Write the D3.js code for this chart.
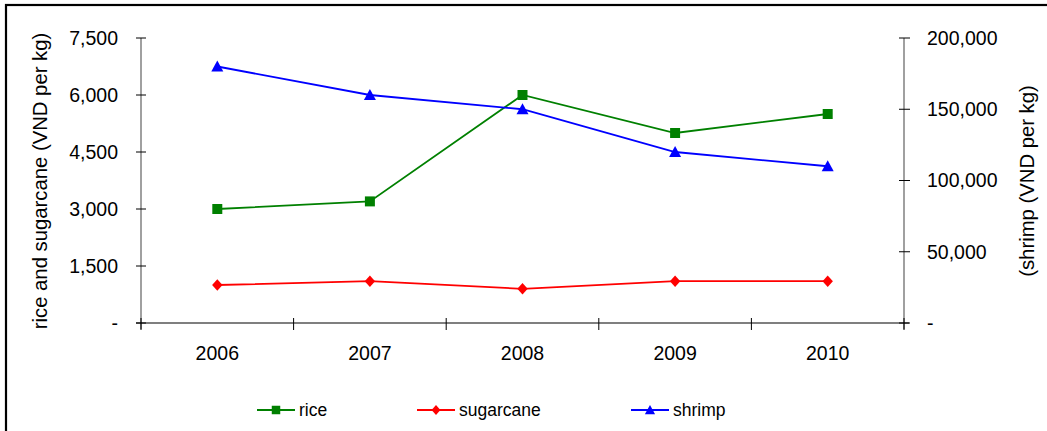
<!DOCTYPE html>
<html><head><meta charset="utf-8">
<script src="https://cdn.jsdelivr.net/npm/d3@7"></script>
<style>body{margin:0;background:#fff;} text{font-family:"Liberation Sans",Arial,sans-serif;}</style>
</head><body>
<svg id="c" width="1047" height="431"></svg>
<script>
const years = ["2006","2007","2008","2009","2010"];
const rice = [3000, 3200, 6000, 5000, 5500];
const sugarcane = [1000, 1100, 900, 1100, 1100];
const shrimp = [180000, 160000, 150000, 120000, 110000];
const leftTicks = [0, 1500, 3000, 4500, 6000, 7500];
const rightTicks = [0, 50000, 100000, 150000, 200000];

const svg = d3.select("#c");
const W = 1047, H = 431;
const m = {l:141, r:904, t:38, b:323};
const TF = 19.5, TT = 20.3, LF = 17.5;

svg.append("rect").attr("x",6).attr("y",5).attr("width",W+10).attr("height",H+10)
  .attr("fill","none").attr("stroke","#000").attr("stroke-width",2.2);

const x = d3.scaleBand().domain(years).range([m.l, m.r]);
const yL = d3.scaleLinear().domain([0,7500]).range([m.b, m.t]);
const yR = d3.scaleLinear().domain([0,200000]).range([m.b, m.t]);
const fmt = v => v === 0 ? "-" : d3.format(",")(v);

// left axis
const gL = svg.append("g").attr("transform",`translate(${m.l},0)`);
gL.append("line").attr("y1",m.t).attr("y2",m.b+6).attr("stroke","#808080").attr("stroke-width",1.5);
leftTicks.forEach(t=>{
  gL.append("line").attr("x1",-5).attr("x2",5).attr("y1",yL(t)).attr("y2",yL(t)).attr("stroke","#000");
  gL.append("text").attr("x",-23).attr("y",yL(t)).attr("dy","0.35em").attr("text-anchor","end")
    .attr("font-size",TF).text(fmt(t));
});
// right axis
const gR = svg.append("g").attr("transform",`translate(${m.r},0)`);
gR.append("line").attr("y1",m.t).attr("y2",m.b+6).attr("stroke","#808080").attr("stroke-width",1.5);
rightTicks.forEach(t=>{
  gR.append("line").attr("x1",-5).attr("x2",6).attr("y1",yR(t)).attr("y2",yR(t)).attr("stroke","#000");
  gR.append("text").attr("x",23).attr("y",yR(t)).attr("dy","0.35em").attr("text-anchor","start")
    .attr("font-size",TF).text(fmt(t));
});
// x axis
svg.append("line").attr("x1",m.l-5).attr("x2",m.r+5).attr("y1",m.b).attr("y2",m.b).attr("stroke","#000").attr("stroke-width",1.2);
const edges = years.map(d=>x(d)).concat([m.r]);
edges.forEach(e=>{
  svg.append("line").attr("x1",e).attr("x2",e).attr("y1",m.b-5).attr("y2",m.b+7).attr("stroke","#000");
});
years.forEach(d=>{
  svg.append("text").attr("x",x(d)+x.bandwidth()/2).attr("y",m.b+37).attr("text-anchor","middle")
    .attr("font-size",TF).text(d);
});
// titles
svg.append("text").attr("transform",`translate(47,181) rotate(-90)`).attr("text-anchor","middle")
  .attr("font-size",TT).text("rice and sugarcane (VND per kg)");
svg.append("text").attr("transform",`translate(1034,181) rotate(-90)`).attr("text-anchor","middle")
  .attr("font-size",TT).text("(shrimp (VND per kg)");

const shapes = {
  square: "M-5,-5H5V5H-5Z",
  diamond: "M0,-5.8L5.2,0L0,5.8L-5.2,0Z",
  triangle: "M0,-6L6,5H-6Z"
};
const cx = d => x(d)+x.bandwidth()/2;
const series = [
  {name:"rice", vals:rice, y:yL, color:"#008000", shape:"square"},
  {name:"sugarcane", vals:sugarcane, y:yL, color:"#ff0000", shape:"diamond"},
  {name:"shrimp", vals:shrimp, y:yR, color:"#0000ff", shape:"triangle"},
];
series.forEach(s=>{
  const line = d3.line().x((v,i)=>cx(years[i])).y(v=>s.y(v));
  svg.append("path").attr("d",line(s.vals)).attr("fill","none").attr("stroke",s.color).attr("stroke-width",1.8);
  s.vals.forEach((v,i)=>{
    svg.append("path").attr("d",shapes[s.shape])
      .attr("transform",`translate(${cx(years[i])},${s.y(v)})`).attr("fill",s.color);
  });
});
// legend
const legX = [257, 417, 631];
series.forEach((s,i)=>{
  const g = svg.append("g").attr("transform",`translate(${legX[i]},410)`);
  g.append("line").attr("x1",0).attr("x2",38).attr("stroke",s.color).attr("stroke-width",1.8);
  g.append("path").attr("d",shapes[s.shape]).attr("transform","translate(19,0) scale(0.85)").attr("fill",s.color);
  g.append("text").attr("x",42).attr("y",0).attr("dy","0.35em").attr("font-size",LF).text(s.name);
});
</script>
</body></html>
